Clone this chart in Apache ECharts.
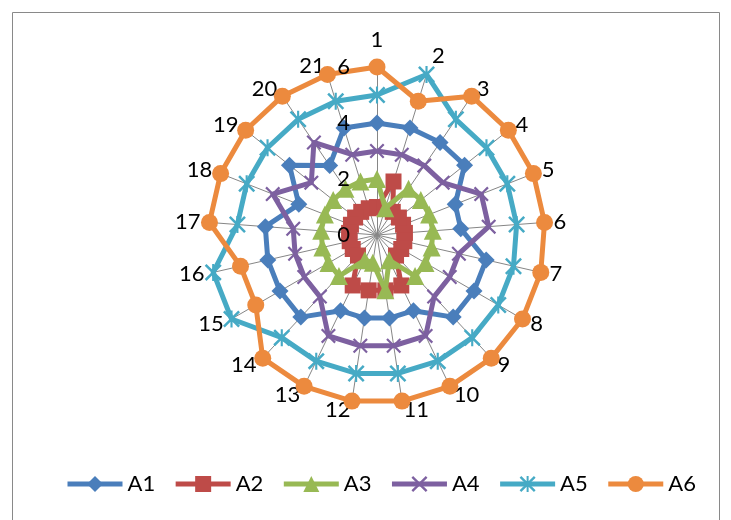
<!DOCTYPE html>
<html>
<head>
<meta charset="utf-8">
<script src="https://cdn.jsdelivr.net/npm/echarts@6/dist/echarts.min.js"></script>
<style>
html,body{margin:0;padding:0;background:#fff;}
#c{width:731px;height:520px;}
</style>
</head>
<body>
<div id="c"></div>
<script>
const categories = ['1','2','3','4','5','6','7','8','9','10','11','12','13','14','15','16','17','18','19','20','21'];
const seriesNames = ['A1','A2','A3','A4','A5','A6'];
const a1 = [4,4,4,4,3,3,4,4,4,3,3,3,3,4,4,4,4,3,4,3,4];
const a2 = [1,2,1,1,1,1,1,1,1,2,2,2,2,1,1,1,1,1,1,1,1];
const a3 = [2,1,2,2,2,2,2,2,2,1,2,1,1,2,2,2,2,2,2,2,2];
const a4 = [3,3,3,3,4,4,3,3,3,4,4,4,4,3,3,3,3,4,3,4,3];
const a5 = [5,6,5,5,5,5,5,5,5,5,5,5,5,5,6,6,5,5,5,5,5];
const a6 = [6,5,6,6,6,6,6,6,6,6,6,6,6,6,5,5,6,6,6,6,6];
const axisMin = 0;
const axisMax = 6;
const axisSplits = 3; // labels 0, 2, 4, 6

const seriesValues = [a1, a2, a3, a4, a5, a6];
const colors = ['#4A7EBB', '#BE4B48', '#98B954', '#7D60A0', '#46AAC5', '#EC8A3E'];
const crossPath = 'path://M2.5,0 L12,9.5 L21.5,0 L24,2.5 L14.5,12 L24,21.5 L21.5,24 L12,14.5 L2.5,24 L0,21.5 L9.5,12 L0,2.5 Z';
const starPath = crossPath + ' M10.5,0 L13.5,0 L13.5,24 L10.5,24 Z';
const symbols = ['diamond', 'rect', 'triangle', crossPath, starPath, 'circle'];
const symbolSizes = [17, 16, 18, 15, 17, 17];
const FONT = 'Lato, "Liberation Sans", sans-serif';
// name label gaps that differ from the default (category index -> gap)
const nameGapOverride = { 0: 16, 1: 19 };

// radar in ECharts runs counter-clockwise; reorder so categories run clockwise
const order = [0];
for (let i = categories.length - 1; i >= 1; i--) order.push(i);

function makeIndicators(withLabel) {
  return order.map(function (i) {
    const ind = { name: categories[i], min: axisMin, max: axisMax };
    if (!withLabel && nameGapOverride[i] != null) ind.nameGap = nameGapOverride[i];
    if (withLabel && i === 0) {
      ind.axisLabel = { show: true, color: '#000', fontSize: 22, fontFamily: FONT, margin: 27 };
    }
    return ind;
  });
}

const series = [];
// legend helper series (line + marker icons like the original legend)
seriesNames.forEach(function (n, k) {
  series.push({
    type: 'line', name: n, xAxisIndex: 0, yAxisIndex: 0, data: [],
    symbol: symbols[k], symbolSize: symbolSizes[k],
    color: colors[k],
    itemStyle: { color: colors[k] },
    lineStyle: { color: colors[k], width: 5 }
  });
});
seriesNames.forEach(function (n, k) {
  series.push({
    type: 'radar', name: n, radarIndex: 0,
    symbol: symbols[k], symbolSize: symbolSizes[k],
    color: colors[k],
    itemStyle: { color: colors[k] },
    lineStyle: { color: colors[k], width: 5 },
    z: 2 + k,
    data: [{ name: n, value: order.map(function (i) { return seriesValues[k][i]; }) }]
  });
});

const chart = echarts.init(document.getElementById('c'), null, { renderer: 'canvas' });
chart.setOption({
  animation: false,
  backgroundColor: '#fff',
  textStyle: { fontFamily: FONT },
  graphic: [{
    type: 'rect', shape: { x: 12.5, y: 12.5, width: 707, height: 530 },
    style: { fill: 'none', stroke: '#898989', lineWidth: 1 }, z: -10, silent: true
  }],
  grid: { show: false, left: 0, top: 0, width: 1, height: 1 },
  xAxis: { type: 'category', show: false, data: [] },
  yAxis: { type: 'value', show: false },
  legend: {
    data: seriesNames,
    left: 60, top: 468,
    itemWidth: 55, itemHeight: 20, itemGap: 18,
    lineStyle: { width: 5 },
    textStyle: { color: '#000', fontSize: 22, fontFamily: FONT }
  },
  radar: [{
    center: [377, 235],
    radius: 168,
    startAngle: 90,
    splitNumber: axisSplits,
    shape: 'polygon',
    indicator: makeIndicators(false),
    nameGap: 9,
    axisName: { color: '#000', fontSize: 22, fontFamily: FONT },
    axisLine: { show: true, lineStyle: { color: '#868686', width: 1 } },
    axisTick: { show: false },
    axisLabel: { show: false },
    splitLine: { show: false },
    splitArea: { show: false }
  }, {
    // same geometry, only carries the value labels on top of the series
    center: [377, 235],
    radius: 168,
    startAngle: 90,
    splitNumber: axisSplits,
    shape: 'polygon',
    z: 20,
    indicator: makeIndicators(true),
    axisName: { show: false },
    axisLine: { show: false },
    axisTick: { show: false },
    axisLabel: { show: false },
    splitLine: { show: false },
    splitArea: { show: false }
  }],
  series: series
});
</script>
</body>
</html>
